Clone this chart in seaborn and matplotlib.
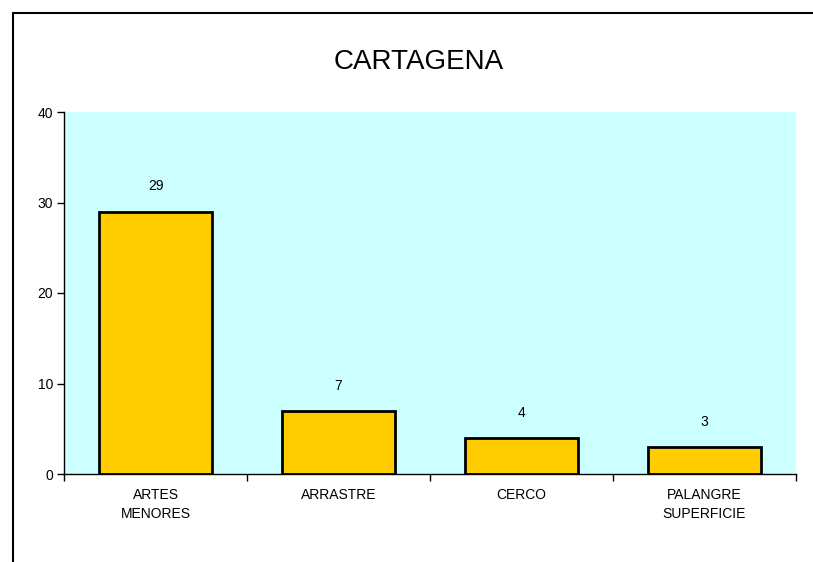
import matplotlib
matplotlib.use('Agg')
import matplotlib.pyplot as plt
from matplotlib.lines import Line2D
import pandas as pd
import seaborn as sns

categorias = ['ARTES\nMENORES', 'ARRASTRE', 'CERCO', 'PALANGRE\nSUPERFICIE']
valores = [29, 7, 4, 3]
yticks = [0, 10, 20, 30, 40]

sns.set_theme(style='white')
plt.rcParams['font.family'] = ['Liberation Sans', 'DejaVu Sans']
plt.rcParams['text.color'] = 'black'
plt.rcParams['xtick.color'] = 'black'
plt.rcParams['ytick.color'] = 'black'

df = pd.DataFrame({'arte': categorias, 'n': valores})

fig = plt.figure(figsize=(8.13, 5.62), dpi=100)
ax = fig.add_axes([64 / 813, 1 - 474 / 562, 732 / 813, 362 / 562])
ax.set_facecolor('#CCFFFF')

sns.barplot(data=df, x='arte', y='n', color='#FFCC00', edgecolor='black',
            linewidth=2, width=0.62, saturation=1, ax=ax)
ax.bar_label(ax.containers[0], padding=13, fontsize=10, color='black')

ax.set_xlim(-0.5, len(categorias) - 0.5)
ax.set_ylim(0, 40)
ax.set_yticks(yticks)
ax.set_xlabel('')
ax.set_ylabel('')

# tick marks on the category boundaries, labels centred under the bars
ax.set_xticks([i - 0.5 for i in range(len(categorias) + 1)])
ax.set_xticklabels([])
ax.set_xticks(range(len(categorias)), minor=True)
ax.set_xticklabels(categorias, minor=True, fontsize=10, linespacing=1.5)
ax.tick_params(axis='x', which='major', direction='out', length=5, width=1,
               color='black', bottom=True)
ax.tick_params(axis='x', which='minor', length=0, pad=10, bottom=True)
ax.tick_params(axis='y', direction='out', length=5, width=1, color='black',
               labelsize=10, pad=3, left=True)

for side in ['top', 'right']:
    ax.spines[side].set_visible(False)
for side in ['left', 'bottom']:
    ax.spines[side].set_color('black')
    ax.spines[side].set_linewidth(1)

fig.text(419 / 813, 1 - 62 / 562, 'CARTAGENA', ha='center', va='center',
         fontsize=20, color='black')

# border of the chart area (clipped at the right and bottom)
fx, fy = 13 / 813, 1 - 13 / 562
fig.add_artist(Line2D([fx, 1], [fy, fy], color='black', linewidth=1.5))
fig.add_artist(Line2D([fx, fx], [0, fy], color='black', linewidth=1.5))

fig.savefig('out.png', dpi=100)
plt.close(fig)
